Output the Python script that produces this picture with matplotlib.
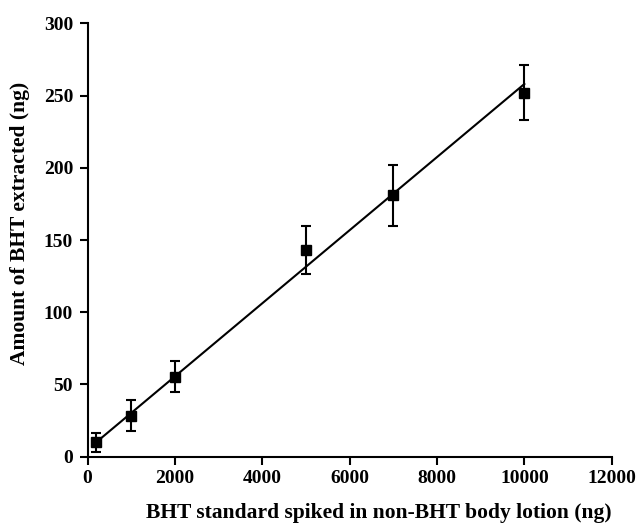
import matplotlib
matplotlib.use("Agg")
import matplotlib.pyplot as plt
import numpy as np

# Data
spiked_ng = [200, 1000, 2000, 5000, 7000, 10000]
extracted_ng = [10, 28.5, 55.5, 143, 181, 252]
error_ng = [6.5, 11, 11, 16.5, 21, 19]
fit_slope = 0.0253
fit_intercept = 5.0
x_ticks = [0, 2000, 4000, 6000, 8000, 10000, 12000]
y_ticks = [0, 50, 100, 150, 200, 250, 300]

plt.rcParams['font.family'] = ['Liberation Serif', 'DejaVu Serif']
plt.rcParams['font.weight'] = 'bold'

fig = plt.figure(figsize=(6.38, 5.25), dpi=100)
ax = fig.add_axes([0.1373, 0.1301, 0.8215, 0.8255])

fx = np.array([spiked_ng[0], spiked_ng[-1]])
ax.plot(fx, fit_slope * fx + fit_intercept, color='black', lw=1.5, zorder=2)
ax.errorbar(spiked_ng, extracted_ng, yerr=error_ng, fmt='s', color='black',
            ms=6.5, elinewidth=1.5, capsize=3.3, capthick=1.5, zorder=3)

ax.set_xlim(0, 12000)
ax.set_ylim(0, 300)
ax.set_xticks(x_ticks)
ax.set_yticks(y_ticks)
for s in ['top', 'right']:
    ax.spines[s].set_visible(False)
for s in ['left', 'bottom']:
    ax.spines[s].set_linewidth(1.5)
ax.tick_params(axis='both', direction='out', length=5.5, width=1.5, labelsize=14)
ax.tick_params(axis='x', pad=4)
ax.tick_params(axis='y', pad=5)
for lab in ax.get_xticklabels() + ax.get_yticklabels():
    lab.set_fontweight('bold')

ax.set_xlabel('BHT standard spiked in non-BHT body lotion (ng)', fontsize=15.5, fontweight='bold')
ax.set_ylabel('Amount of BHT extracted (ng)', fontsize=15.5, fontweight='bold')
ax.xaxis.set_label_coords(0.556, -0.1414)
ax.xaxis.label.set_va('baseline')
ax.yaxis.set_label_coords(-0.129, 0.539)
ax.yaxis.label.set_va('center')

fig.savefig('out.png', dpi=100)
